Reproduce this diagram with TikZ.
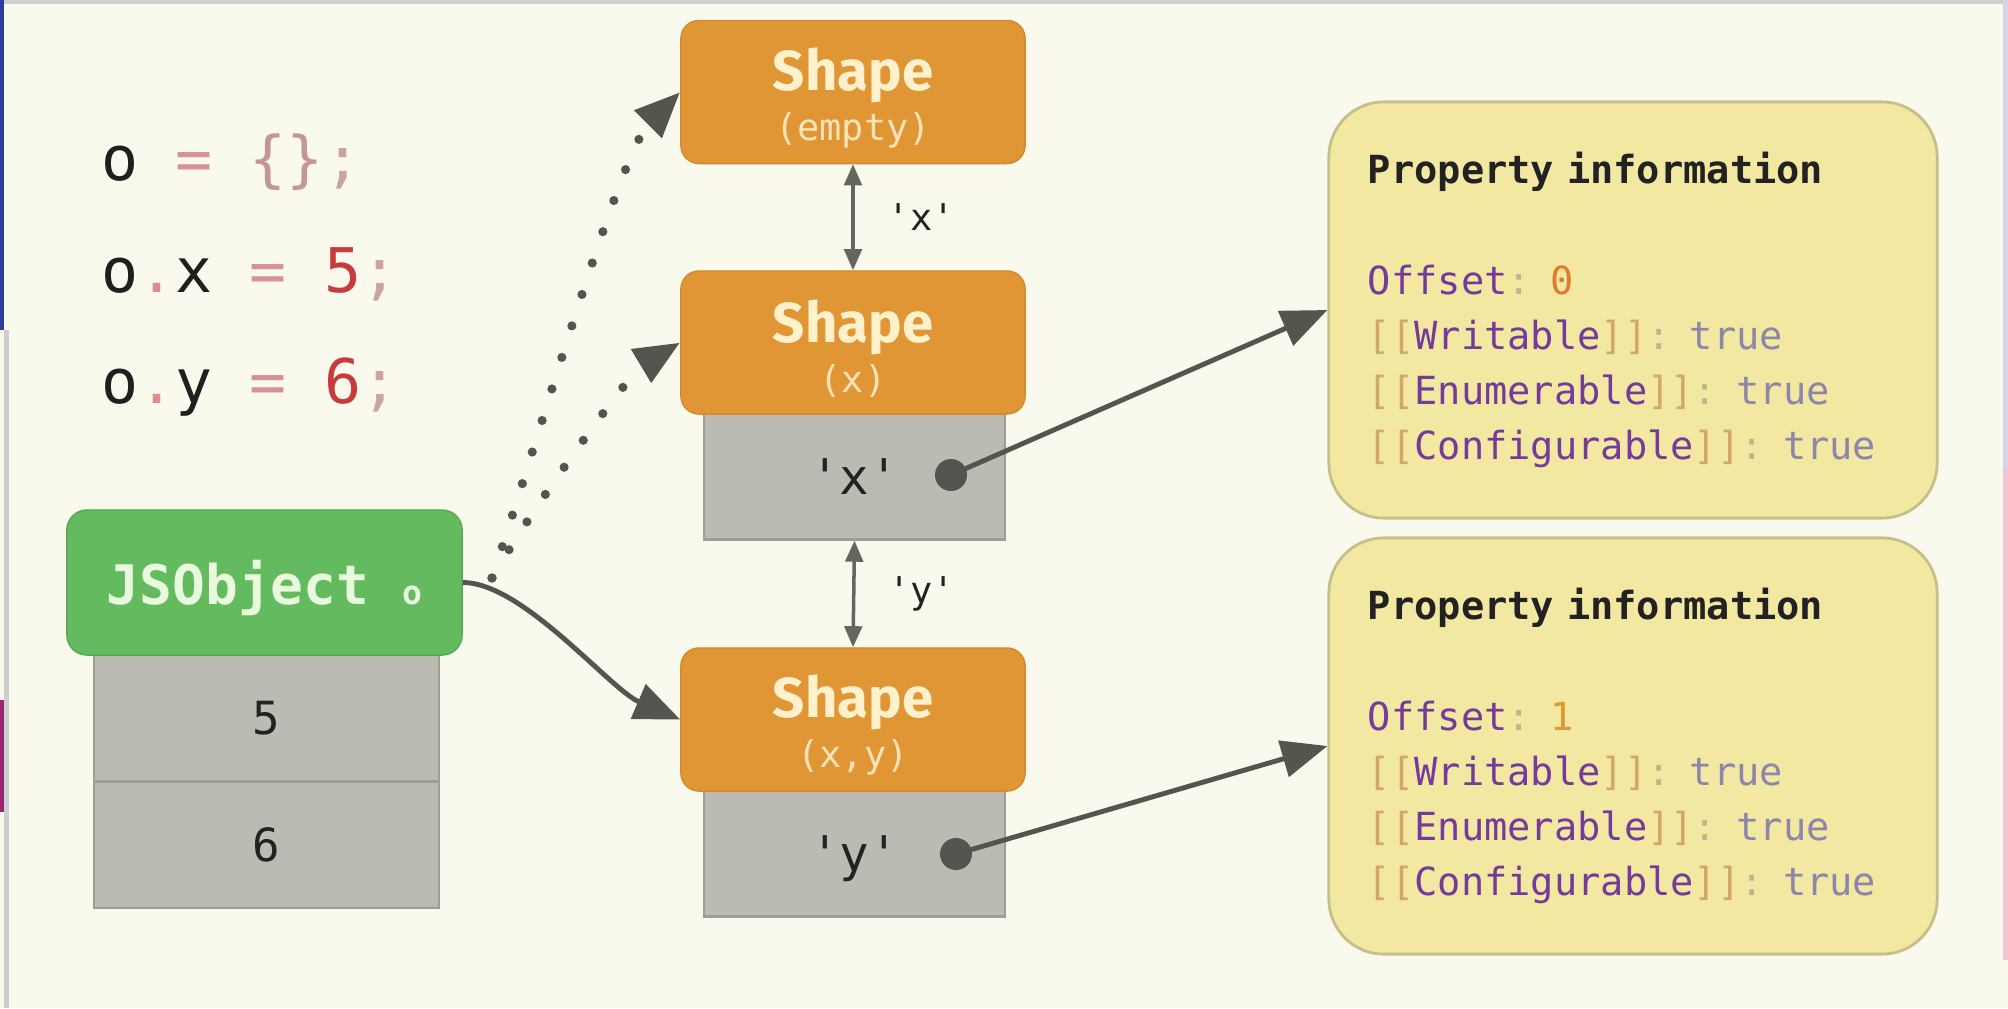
\documentclass[tikz,border=0pt]{standalone}
\usepackage{fontspec}
\usepackage{tikz}
\usetikzlibrary{arrows.meta}

\newfontfamily\codefont{DejaVu Sans Mono}[Ligatures=TeXOff]
\newfontfamily\titlefont{Fira Sans}

\definecolor{bgcol}{HTML}{F9F9EE}
\definecolor{org}{HTML}{E19636}
\definecolor{orgline}{HTML}{D4892E}
\definecolor{shtxt}{HTML}{FFF1CC}
\definecolor{shsub}{HTML}{FBE3B8}
\definecolor{grn}{HTML}{64BB5F}
\definecolor{grnline}{HTML}{58A854}
\definecolor{grntxt}{HTML}{E8F9DE}
\definecolor{slot}{HTML}{BBBBB3}
\definecolor{slotline}{HTML}{9E9E96}
\definecolor{propfill}{HTML}{F2E8A2}
\definecolor{propline}{HTML}{C7BF8A}
\definecolor{arrowcol}{HTML}{55554F}
\definecolor{transcol}{HTML}{666660}
\definecolor{ttl}{HTML}{222222}
\definecolor{prp}{HTML}{763A9A}
\definecolor{brk}{HTML}{D3A865}
\definecolor{sep}{HTML}{BDB58E}
\definecolor{tru}{HTML}{8B87AA}
\definecolor{num0}{HTML}{E07A2E}
\definecolor{num1}{HTML}{DC9A36}
\definecolor{cblk}{HTML}{1F1F1F}
\definecolor{ceq}{HTML}{D98E9E}
\definecolor{cbr}{HTML}{C59696}
\definecolor{csc}{HTML}{C9A3A5}
\definecolor{cdot}{HTML}{E08C8C}
\definecolor{cnum}{HTML}{C93A3A}
\definecolor{edgegray}{HTML}{CDCDD2}
\definecolor{edgeblue}{HTML}{2E3C9C}
\definecolor{edgemag}{HTML}{9A2870}
\definecolor{edgelav}{HTML}{D4D4E4}
\definecolor{edgepink}{HTML}{F2C4DA}

\newcommand\q[1]{'#1'}
\newcommand\shapetxt[1]{\rule{0pt}{15.4pt}Shape\\{\codefont\mdseries\fontsize{10.5}{12}\selectfont\color{shsub}#1}}
\newcommand\propline[1]{\textcolor{brk}{[[}\textcolor{prp}{#1}\textcolor{brk}{]]}\textcolor{sep}{:} \textcolor{tru}{true}}

\begin{document}
\begin{tikzpicture}[x=0.01cm, y=-0.01cm,
    >={Triangle[length=13pt,width=10.5pt]},
    codeline/.style={anchor=base west, inner sep=0pt, text=cblk,
        font=\codefont\fontsize{17.5}{20}\selectfont},
    shapebox/.style={draw=orgline, fill=org, rounded corners=1.8mm,
        minimum width=34.4mm, minimum height=14.3mm, inner sep=0pt,
        align=center, text=shtxt,
        font=\titlefont\bfseries\fontsize{16}{14.2}\selectfont},
    slotbox/.style={draw=slotline, fill=slot, line width=0.6pt,
        minimum width=30.1mm, minimum height=12.6mm, inner sep=0pt,
        text depth=0pt, text=ttl, font=\codefont\fontsize{14}{16}\selectfont},
    valbox/.style={slotbox, minimum width=34.5mm,
        font=\codefont\fontsize{13}{15}\selectfont},
    objbox/.style={draw=grnline, fill=grn, rounded corners=2mm,
        minimum width=39.5mm, minimum height=14.5mm, inner sep=0pt,
        text depth=0pt, text=grntxt,
        font=\codefont\bfseries\fontsize{15.5}{18}\selectfont},
    propbox/.style={draw=propline, fill=propfill, line width=0.8pt,
        rounded corners=5.5mm, minimum width=60.8mm, minimum height=41.6mm,
        text width=53mm, inner xsep=3.9mm, inner ysep=0pt, align=left,
        text=ttl, font=\codefont\fontsize{11}{15.65}\selectfont},
    keydot/.style={circle, fill=arrowcol, minimum size=3.2mm, inner sep=0pt},
    ptr/.style={->, line width=1.4pt, draw=arrowcol},
    ptrdot/.style={->, line width=2.6pt, draw=arrowcol, line cap=round,
        dash pattern=on 0pt off 9.4pt},
    trans/.style={{Triangle[length=6pt,width=5pt]}-{Triangle[length=6pt,width=5pt]},
        line width=1pt, draw=transcol},
    translbl/.style={right, xshift=3.3mm, inner sep=0pt, text=ttl,
        font=\codefont\fontsize{10.5}{12}\selectfont}]

  % page and the frame edges of the slide
  \useasboundingbox (0,0) rectangle (2008,1008);
  \fill[bgcol] (0,0) rectangle (2008,1008);
  \fill[edgegray] (0,0) rectangle (2008,4);
  \fill[edgeblue] (0,0) rectangle (4,330);
  \fill[edgegray] (4,330) rectangle (9,1008);
  \fill[edgemag] (0,700) rectangle (4,812);
  \fill[edgelav] (2003,0) rectangle (2008,470);
  \fill[edgepink] (2003,470) rectangle (2008,960);

  % source code
  \node[codeline] (c1) at (101,180) {o \textcolor{ceq}{=} \textcolor{cbr}{\{\}}\textcolor{csc}{;}};
  \foreach \v/\n/\yb in {x/5/292, y/6/403} {%
    \node[codeline] (c\v) at (101,\yb) {o\textcolor{cdot}{.}\v{} \textcolor{ceq}{=} \textcolor{cnum}{\n}\textcolor{csc}{;}};
  }

  % object and its in-object properties
  \node[valbox] (v5) at (266.5,718) {5};
  \node[valbox] (v6) at (266.5,845) {6};
  \node[objbox] (jso) at (264.5,582.5) {JSObject {\fontsize{9.4}{10}\selectfont o}};

  % shape chain
  \node[slotbox] (gx) at (854.5,476.5) {\q{x}};
  \node[slotbox] (gy) at (854.5,853.5) {\q{y}};
  \node[shapebox] (s0) at (853,92) {\shapetxt{(empty)}};
  \node[shapebox] (s1) at (853,342.5) {\shapetxt{(x)}};
  \node[shapebox] (s2) at (853,719.5) {\shapetxt{(x,y)}};
  \node[keydot] (dx) at (951,475) {};
  \node[keydot] (dy) at (956,854) {};

  \draw[trans] (s0.south) -- node[translbl] {\q{x}} (s1.north);
  \draw[trans] (gx.south) -- node[translbl] {\q{y}} (s2.north);

  % property information
  \foreach \k/\yc/\off/\oc in {1/310/0/num0, 2/746/1/num1} {%
    \node[propbox] (p\k) at (1633,\yc) {\textbf{Property information}\\[15.65pt]
      \textcolor{prp}{Offset}\textcolor{sep}{:} \textcolor{\oc}{\off}\\
      \propline{Writable}\\
      \propline{Enumerable}\\
      \propline{Configurable}};
  }

  \draw[ptr] (dx.center) -- (p1.west);
  \draw[ptr] (dy.center) -- (p2.west);

  % transitions taken by o
  \coordinate (dsrc) at (492,578);
  \draw[ptr] (jso.east) .. controls +(60,0) and +(-70,-30) .. (s2.west);
  \draw[ptrdot] (dsrc) .. controls +(50,-150) and +(-60,60) .. (s0.west);
  \draw[ptrdot] (dsrc) .. controls +(40,-70) and +(-50,30) .. (s1.west);
\end{tikzpicture}
\end{document}
